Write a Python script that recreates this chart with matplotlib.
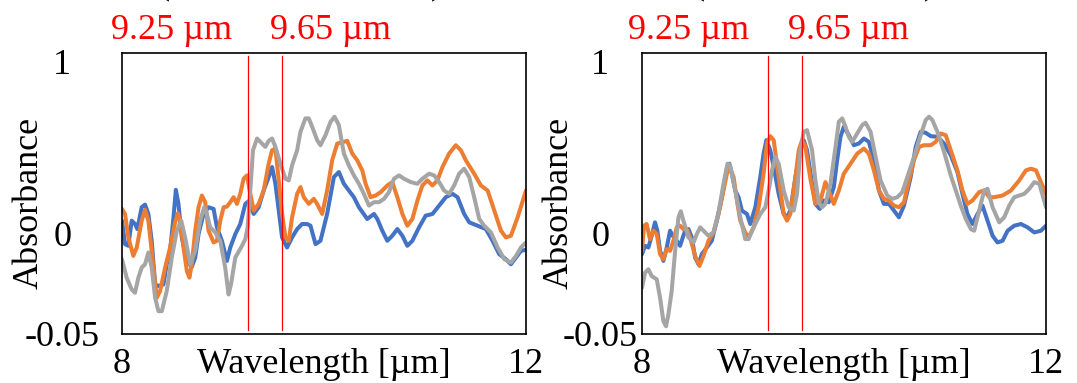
import matplotlib

matplotlib.use("Agg")
import matplotlib.pyplot as plt

plt.rcParams["font.family"] = ["Liberation Serif", "DejaVu Serif"]

# --- data (wavelength in um, absorbance in plot units) ---
left_blue_x = [8.000, 8.030, 8.063, 8.096, 8.129, 8.152, 8.195, 8.228, 8.261, 8.294, 8.328, 8.361, 8.410, 8.443, 8.476, 8.510, 8.533, 8.559, 8.592, 8.642, 8.691, 8.725, 8.758, 8.807, 8.857, 8.907, 8.940, 8.989, 9.039, 9.072, 9.122, 9.171, 9.221, 9.254, 9.304, 9.353, 9.403, 9.452, 9.486, 9.519, 9.552, 9.585, 9.634, 9.684, 9.734, 9.783, 9.833, 9.866, 9.916, 9.965, 10.031, 10.098, 10.147, 10.197, 10.246, 10.296, 10.346, 10.428, 10.495, 10.528, 10.577, 10.627, 10.676, 10.726, 10.776, 10.825, 10.875, 10.941, 11.007, 11.074, 11.140, 11.206, 11.272, 11.322, 11.388, 11.438, 11.520, 11.603, 11.669, 11.735, 11.801, 11.851, 11.901, 11.950, 12.000]
left_blue_y = [0.039, -0.031, -0.036, 0.039, 0.029, 0.014, 0.079, 0.087, 0.059, -0.021, -0.151, -0.156, -0.151, -0.091, -0.051, 0.049, 0.131, 0.089, -0.011, -0.081, -0.099, -0.071, -0.001, 0.059, 0.079, 0.074, 0.019, -0.021, -0.081, -0.041, -0.001, 0.029, 0.089, 0.097, 0.059, 0.079, 0.129, 0.169, 0.199, 0.149, 0.069, -0.011, -0.041, -0.011, 0.014, 0.029, 0.029, 0.024, -0.031, -0.021, 0.059, 0.169, 0.184, 0.149, 0.129, 0.109, 0.079, 0.044, 0.059, 0.044, 0.009, -0.021, -0.006, 0.014, -0.006, -0.036, -0.021, 0.019, 0.054, 0.059, 0.084, 0.109, 0.119, 0.109, 0.059, 0.034, 0.024, 0.014, -0.021, -0.061, -0.076, -0.091, -0.071, -0.051, -0.048]

left_orange_x = [8.000, 8.030, 8.063, 8.112, 8.146, 8.195, 8.228, 8.261, 8.294, 8.344, 8.377, 8.427, 8.476, 8.526, 8.553, 8.576, 8.609, 8.642, 8.668, 8.691, 8.725, 8.758, 8.791, 8.824, 8.857, 8.907, 8.940, 8.973, 9.006, 9.039, 9.072, 9.105, 9.138, 9.171, 9.204, 9.237, 9.264, 9.304, 9.353, 9.403, 9.452, 9.486, 9.519, 9.552, 9.585, 9.618, 9.651, 9.684, 9.734, 9.767, 9.800, 9.849, 9.899, 9.932, 9.982, 10.031, 10.081, 10.131, 10.197, 10.230, 10.280, 10.329, 10.379, 10.412, 10.461, 10.511, 10.561, 10.627, 10.676, 10.726, 10.776, 10.825, 10.875, 10.925, 10.974, 11.024, 11.074, 11.123, 11.173, 11.239, 11.305, 11.355, 11.404, 11.487, 11.553, 11.620, 11.686, 11.752, 11.801, 11.851, 11.917, 12.000]
left_orange_y = [0.074, 0.059, -0.011, -0.066, -0.041, 0.039, 0.071, 0.039, -0.051, -0.191, -0.171, -0.101, -0.041, 0.034, 0.061, 0.039, -0.041, -0.111, -0.131, -0.091, 0.009, 0.079, 0.114, 0.094, 0.009, -0.026, -0.021, 0.039, 0.079, 0.081, 0.094, 0.109, 0.089, 0.119, 0.164, 0.174, 0.129, 0.069, 0.089, 0.129, 0.209, 0.249, 0.254, 0.159, 0.059, -0.011, -0.021, 0.049, 0.119, 0.139, 0.109, 0.089, 0.104, 0.089, 0.059, 0.129, 0.219, 0.269, 0.274, 0.277, 0.239, 0.219, 0.189, 0.149, 0.109, 0.114, 0.124, 0.144, 0.154, 0.109, 0.059, 0.024, 0.044, 0.099, 0.144, 0.159, 0.144, 0.159, 0.199, 0.239, 0.264, 0.249, 0.219, 0.179, 0.144, 0.129, 0.069, 0.009, -0.011, -0.006, 0.049, 0.129]

left_gray_x = [8.000, 8.046, 8.096, 8.129, 8.162, 8.195, 8.228, 8.261, 8.294, 8.328, 8.361, 8.394, 8.443, 8.493, 8.543, 8.586, 8.625, 8.675, 8.725, 8.774, 8.814, 8.840, 8.873, 8.923, 8.973, 9.022, 9.055, 9.079, 9.122, 9.188, 9.221, 9.244, 9.270, 9.297, 9.337, 9.386, 9.419, 9.452, 9.486, 9.519, 9.568, 9.618, 9.651, 9.684, 9.734, 9.767, 9.816, 9.849, 9.883, 9.932, 9.965, 10.015, 10.065, 10.104, 10.147, 10.197, 10.246, 10.296, 10.346, 10.395, 10.445, 10.495, 10.544, 10.594, 10.643, 10.693, 10.743, 10.792, 10.859, 10.925, 10.974, 11.041, 11.090, 11.140, 11.189, 11.239, 11.289, 11.338, 11.388, 11.438, 11.487, 11.537, 11.586, 11.653, 11.719, 11.785, 11.851, 11.901, 11.950, 12.000]
left_gray_y = [-0.076, -0.131, -0.166, -0.176, -0.131, -0.101, -0.091, -0.056, -0.101, -0.191, -0.231, -0.231, -0.171, -0.071, 0.009, 0.039, -0.011, -0.091, -0.051, 0.039, 0.079, 0.059, 0.019, 0.004, -0.021, -0.101, -0.181, -0.151, -0.071, -0.036, -0.016, 0.019, 0.129, 0.249, 0.284, 0.269, 0.259, 0.277, 0.284, 0.259, 0.209, 0.164, 0.159, 0.204, 0.249, 0.304, 0.344, 0.344, 0.319, 0.279, 0.264, 0.294, 0.334, 0.349, 0.324, 0.239, 0.204, 0.174, 0.149, 0.119, 0.084, 0.094, 0.094, 0.104, 0.124, 0.164, 0.174, 0.164, 0.154, 0.149, 0.164, 0.179, 0.174, 0.154, 0.129, 0.119, 0.144, 0.179, 0.194, 0.169, 0.109, 0.044, 0.024, 0.004, -0.041, -0.076, -0.086, -0.066, -0.041, -0.026]

right_blue_x = [8.000, 8.030, 8.063, 8.096, 8.129, 8.152, 8.179, 8.212, 8.245, 8.278, 8.304, 8.344, 8.377, 8.404, 8.427, 8.460, 8.493, 8.526, 8.559, 8.592, 8.642, 8.691, 8.741, 8.791, 8.840, 8.864, 8.890, 8.923, 8.956, 8.989, 9.039, 9.072, 9.122, 9.171, 9.204, 9.231, 9.270, 9.304, 9.353, 9.403, 9.436, 9.469, 9.519, 9.568, 9.601, 9.634, 9.684, 9.717, 9.760, 9.800, 9.849, 9.899, 9.932, 9.965, 9.998, 10.048, 10.098, 10.147, 10.197, 10.246, 10.296, 10.346, 10.395, 10.445, 10.495, 10.544, 10.594, 10.660, 10.710, 10.759, 10.809, 10.859, 10.925, 10.991, 11.057, 11.123, 11.173, 11.222, 11.272, 11.322, 11.371, 11.421, 11.471, 11.520, 11.570, 11.620, 11.686, 11.752, 11.818, 11.884, 11.950, 12.000]
right_blue_y = [-0.061, -0.036, -0.041, -0.006, 0.034, 0.009, -0.051, -0.081, -0.041, 0.009, -0.006, -0.021, -0.036, -0.011, 0.009, 0.014, -0.011, -0.071, -0.091, -0.061, -0.041, -0.021, 0.039, 0.109, 0.194, 0.209, 0.179, 0.129, 0.109, 0.069, 0.059, 0.029, 0.079, 0.169, 0.239, 0.279, 0.249, 0.199, 0.119, 0.059, 0.049, 0.069, 0.169, 0.249, 0.279, 0.249, 0.149, 0.089, 0.074, 0.099, 0.094, 0.139, 0.219, 0.289, 0.319, 0.294, 0.264, 0.269, 0.284, 0.274, 0.219, 0.129, 0.089, 0.089, 0.069, 0.049, 0.084, 0.169, 0.259, 0.304, 0.301, 0.291, 0.289, 0.269, 0.234, 0.184, 0.119, 0.059, 0.029, 0.059, 0.084, 0.039, -0.006, -0.026, -0.021, 0.009, 0.024, 0.029, 0.019, 0.004, 0.009, 0.024]

right_orange_x = [8.000, 8.020, 8.046, 8.079, 8.112, 8.146, 8.179, 8.212, 8.245, 8.278, 8.311, 8.344, 8.377, 8.410, 8.443, 8.476, 8.526, 8.569, 8.609, 8.658, 8.708, 8.758, 8.807, 8.857, 8.907, 8.940, 8.973, 9.022, 9.055, 9.105, 9.155, 9.204, 9.237, 9.270, 9.304, 9.353, 9.403, 9.436, 9.469, 9.519, 9.552, 9.585, 9.618, 9.667, 9.717, 9.767, 9.816, 9.849, 9.899, 9.949, 9.998, 10.065, 10.131, 10.197, 10.246, 10.296, 10.346, 10.395, 10.445, 10.495, 10.544, 10.594, 10.643, 10.693, 10.743, 10.792, 10.859, 10.908, 10.958, 11.007, 11.057, 11.123, 11.173, 11.222, 11.272, 11.338, 11.388, 11.438, 11.487, 11.570, 11.653, 11.735, 11.801, 11.851, 11.901, 11.950, 12.000]
right_orange_y = [-0.051, 0.024, 0.029, -0.016, 0.009, -0.001, -0.061, -0.076, -0.046, -0.051, -0.021, 0.019, 0.024, 0.014, 0.014, -0.011, -0.066, -0.096, -0.066, -0.021, 0.004, 0.059, 0.129, 0.204, 0.169, 0.099, 0.039, 0.004, -0.011, 0.019, 0.079, 0.179, 0.269, 0.291, 0.279, 0.169, 0.059, 0.039, 0.059, 0.169, 0.249, 0.279, 0.259, 0.164, 0.089, 0.099, 0.154, 0.129, 0.089, 0.129, 0.179, 0.209, 0.239, 0.254, 0.239, 0.189, 0.129, 0.104, 0.099, 0.084, 0.079, 0.094, 0.159, 0.219, 0.259, 0.264, 0.264, 0.274, 0.299, 0.294, 0.249, 0.189, 0.129, 0.089, 0.099, 0.124, 0.129, 0.109, 0.109, 0.114, 0.129, 0.159, 0.189, 0.194, 0.189, 0.154, 0.119]

right_gray_x = [8.000, 8.030, 8.063, 8.096, 8.146, 8.179, 8.212, 8.238, 8.261, 8.294, 8.328, 8.361, 8.384, 8.410, 8.460, 8.510, 8.543, 8.576, 8.609, 8.658, 8.708, 8.758, 8.807, 8.847, 8.873, 8.923, 8.973, 9.022, 9.055, 9.105, 9.171, 9.221, 9.254, 9.287, 9.320, 9.353, 9.403, 9.452, 9.502, 9.535, 9.568, 9.601, 9.634, 9.684, 9.717, 9.750, 9.783, 9.816, 9.866, 9.916, 9.949, 9.982, 10.015, 10.048, 10.081, 10.131, 10.180, 10.213, 10.263, 10.313, 10.362, 10.428, 10.478, 10.528, 10.577, 10.627, 10.693, 10.759, 10.809, 10.842, 10.875, 10.925, 10.991, 11.057, 11.107, 11.156, 11.206, 11.256, 11.289, 11.338, 11.388, 11.421, 11.471, 11.537, 11.586, 11.636, 11.686, 11.735, 11.785, 11.835, 11.884, 11.934, 12.000]
right_gray_y = [-0.161, -0.116, -0.106, -0.126, -0.136, -0.191, -0.261, -0.276, -0.241, -0.171, -0.051, 0.049, 0.067, 0.039, -0.011, -0.026, -0.001, 0.019, 0.009, -0.006, 0.004, 0.064, 0.149, 0.209, 0.204, 0.129, 0.049, -0.016, -0.016, 0.019, 0.059, 0.079, 0.129, 0.189, 0.229, 0.209, 0.129, 0.079, 0.069, 0.119, 0.249, 0.304, 0.309, 0.249, 0.159, 0.094, 0.079, 0.089, 0.149, 0.259, 0.334, 0.344, 0.319, 0.289, 0.274, 0.299, 0.324, 0.331, 0.304, 0.229, 0.159, 0.114, 0.104, 0.109, 0.124, 0.169, 0.229, 0.294, 0.339, 0.349, 0.339, 0.304, 0.244, 0.174, 0.129, 0.084, 0.044, 0.014, 0.009, 0.069, 0.129, 0.134, 0.079, 0.034, 0.049, 0.084, 0.109, 0.114, 0.119, 0.134, 0.154, 0.149, 0.079]

marker_lines = [9.244, 9.588]
marker_labels = ["9.25 \u00b5m", "9.65 \u00b5m"]
ytick_pos = [-0.299, 0.0, 0.513]
ytick_labels = ["-0.05", "0", "1"]
xtick_pos = [8, 12]
xtick_labels = ["8", "12"]

COLORS = ["#4472C4", "#ED7D31", "#A5A5A5"]
FS = 26
W, H = 1077, 383
XPAD = 10  # points between frame and the x tick labels / x label

fig = plt.figure(figsize=(W / 100, H / 100), dpi=100)

panels = [
    dict(rect=[122, 53, 404, 281], ypad=43, ylab_x=-0.189,
         label_x=[172, 330], parens=[163, 437],
         series=[(left_blue_x, left_blue_y), (left_orange_x, left_orange_y),
                 (left_gray_x, left_gray_y)]),
    dict(rect=[642, 53, 404, 281], ypad=30, ylab_x=-0.164,
         label_x=[689, 848], parens=[698, 930],
         series=[(right_blue_x, right_blue_y), (right_orange_x, right_orange_y),
                 (right_gray_x, right_gray_y)]),
]

for p in panels:
    x0, y0, w, h = p["rect"]
    ax = fig.add_axes([x0 / W, (H - y0 - h) / H, w / W, h / H])
    for (xs, ys), c in zip(p["series"], COLORS):
        ax.plot(xs, ys, color=c, linewidth=2.9, solid_joinstyle="round",
                solid_capstyle="round")
    for xv in marker_lines:
        ax.axvline(xv, ymin=0.015, ymax=0.988, color="#FF0000", linewidth=0.9)
    ax.set_xlim(8, 12)
    ax.set_ylim(-0.299, 0.539)
    ax.set_xticks(xtick_pos)
    ax.set_xticklabels(xtick_labels, fontsize=FS)
    ax.set_yticks(ytick_pos)
    ax.set_yticklabels(ytick_labels, fontsize=FS, ha="center")
    ax.tick_params(axis="y", length=0, pad=p["ypad"])
    ax.tick_params(axis="x", length=0, pad=XPAD)
    ax.set_xlabel("Wavelength [\u00b5m]", fontsize=FS)
    ax.xaxis.set_label_coords(0.5, -XPAD / 72 * 100 / h)
    ax.set_ylabel("Absorbance", fontsize=FS)
    ax.yaxis.set_label_coords(p["ylab_x"], 0.468)
    for s in ax.spines.values():
        s.set_linewidth(1.2)
        s.set_color("black")
    for lx, txt in zip(p["label_x"], marker_labels):
        fig.text(lx / W, (H - 39) / H, txt, color="#FF0000", fontsize=FS,
                 ha="center", va="baseline")
    # only the tails of the cropped panel titles' brackets are visible
    for px, ch in zip(p["parens"], ["(", ")"]):
        fig.text(px / W, (H + 7) / H, ch, fontsize=FS, ha="center", va="baseline")

fig.savefig("out.png", dpi=100)
